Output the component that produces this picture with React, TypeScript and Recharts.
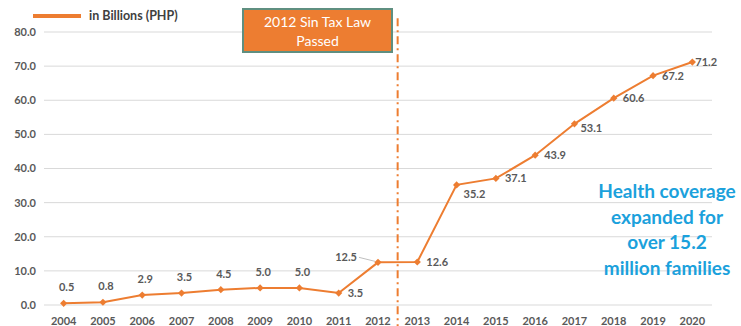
import React from 'react';
import { LineChart, Line, XAxis, YAxis, CartesianGrid, ReferenceLine, LabelList } from 'recharts';

const years = ['2004', '2005', '2006', '2007', '2008', '2009', '2010', '2011', '2012', '2013', '2014', '2015', '2016', '2017', '2018', '2019', '2020'];
const billions = [0.5, 0.8, 2.9, 3.5, 4.5, 5.0, 5.0, 3.5, 12.5, 12.6, 35.2, 37.1, 43.9, 53.1, 60.6, 67.2, 71.2];
const yTicks = [0, 10, 20, 30, 40, 50, 60, 70, 80];
const coverageLines = ['Health coverage', 'expanded for', 'over 15.2', 'million families'];

const data = years.map((year, i) => ({ year, value: billions[i] }));

const ORANGE = '#ED7D31';
const GRAY = '#595959';
const FONT = 'Lato, "Open Sans", sans-serif';

function Diamond(props: any) {
  const { cx, cy } = props;
  if (cx == null || cy == null) return null;
  const r = 3.6;
  return <polygon points={`${cx},${cy - r} ${cx + r},${cy} ${cx},${cy + r} ${cx - r},${cy}`} fill={ORANGE} />;
}

function ValueLabel(props: any) {
  const { x, y, value, index } = props;
  const text = Number(value).toFixed(1);
  const style = { fontSize: 11, fontWeight: 700, fill: GRAY, fontFamily: FONT };
  if (index <= 6) {
    return <text x={x + 3} y={y - 12} textAnchor="middle" style={style}>{text}</text>;
  }
  if (index === 8) {
    return (
      <g>
        <line x1={x - 19} y1={y - 5} x2={x - 3} y2={y - 1} stroke="#bfbfbf" strokeWidth={1} />
        <text x={x - 21} y={y - 1} textAnchor="end" style={style}>{text}</text>
      </g>
    );
  }
  if (index === 10) {
    return <text x={x + 7} y={y + 13} textAnchor="start" style={style}>{text}</text>;
  }
  const dx = index === 16 ? 3 : index === 13 ? 6 : 9;
  const dy = index === 13 ? 8 : 4;
  return <text x={x + dx} y={y + dy} textAnchor="start" style={style}>{text}</text>;
}

export default function App() {
  return (
    <div style={{ position: 'absolute', left: 0, top: 0, width: 741, height: 326, background: '#fff' }}>
      <LineChart width={741} height={326} data={data} margin={{ top: 32, right: 29, bottom: 0, left: 0 }}>
        <CartesianGrid vertical={false} stroke="#d9d9d9" />
        <XAxis
          dataKey="year"
          scale="band"
          axisLine={false}
          tickLine={false}
          height={21}
          tickMargin={6}
          interval={0}
          tick={{ fontSize: 11, fontWeight: 700, fill: GRAY, fontFamily: FONT }}
        />
        <YAxis
          domain={[0, 80]}
          ticks={yTicks}
          width={44}
          axisLine={false}
          tickLine={false}
          tickFormatter={(v: number) => v.toFixed(1)}
          tick={{ fontSize: 11, fontWeight: 700, fill: GRAY, fontFamily: FONT }}
        />
        <ReferenceLine
          segment={[{ x: '2012', y: 84 }, { x: '2012', y: -6.5 }]}
          position="end"
          ifOverflow="visible"
          stroke={ORANGE}
          strokeWidth={2}
          strokeDasharray="8 4 2 4"
        />
        <Line
          type="linear"
          dataKey="value"
          stroke={ORANGE}
          strokeWidth={2}
          dot={<Diamond />}
          activeDot={false}
          isAnimationActive={false}
        >
          <LabelList dataKey="value" content={<ValueLabel />} />
        </Line>
      </LineChart>
      <div
        style={{
          position: 'absolute', left: 33, top: 8, display: 'flex', alignItems: 'center',
          fontFamily: FONT, fontSize: 12.5, fontWeight: 700, color: '#404040',
        }}
      >
        <span style={{ display: 'inline-block', width: 48, height: 4, background: ORANGE, marginRight: 8 }} />
        in Billions (PHP)
      </div>
      <div
        style={{
          position: 'absolute', left: 242, top: 8, width: 147, height: 41,
          background: ORANGE, border: '2px solid #5f8f80', color: '#fff',
          fontFamily: FONT, fontSize: 14, lineHeight: '19px', textAlign: 'center',
          display: 'flex', flexDirection: 'column', justifyContent: 'center',
        }}
      >
        <div>2012 Sin Tax Law</div>
        <div>Passed</div>
      </div>
      <div
        style={{
          position: 'absolute', left: 592, top: 178, width: 150, textAlign: 'center',
          fontFamily: FONT, fontSize: 19, fontWeight: 700, color: '#1BA1DC', lineHeight: '25.5px',
        }}
      >
        {coverageLines.map((t) => <div key={t}>{t}</div>)}
      </div>
    </div>
  );
}
